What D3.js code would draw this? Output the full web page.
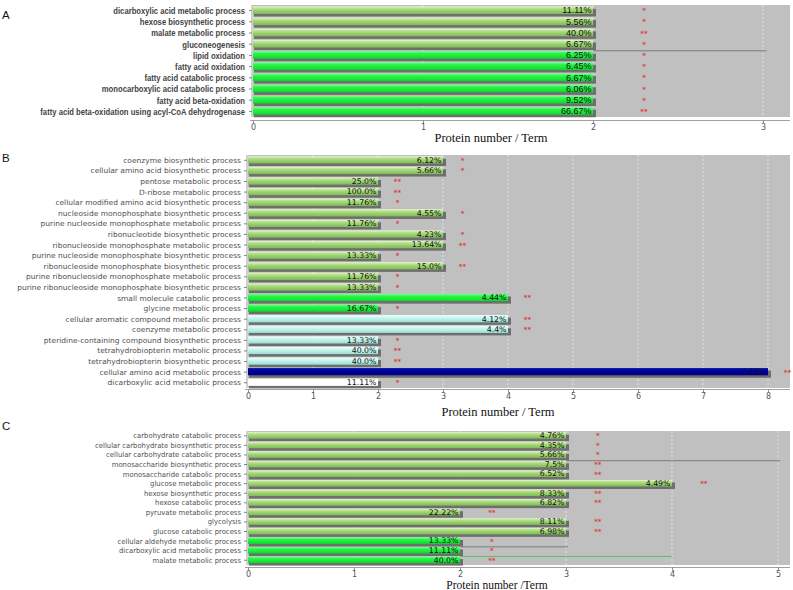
<!DOCTYPE html>
<html><head><meta charset="utf-8">
<script src="https://cdn.jsdelivr.net/npm/d3@7/dist/d3.min.js"></script>
<style>body{margin:0;background:#fff}svg{display:block}</style>
</head><body><svg id="c" width="793" height="590"></svg>
<script>
// ---------- Panel A ----------
const termsA = ["dicarboxylic acid metabolic process","hexose biosynthetic process","malate metabolic process","gluconeogenesis","lipid oxidation","fatty acid oxidation","fatty acid catabolic process","monocarboxylic acid catabolic process","fatty acid beta-oxidation","fatty acid beta-oxidation using acyl-CoA dehydrogenase"];
const countsA = [2,2,2,2,2,2,2,2,2,2];
const pctA = ["11.11%","5.56%","40.0%","6.67%","6.25%","6.45%","6.67%","6.06%","9.52%","66.67%"];
const sigA = ["*","*","**","*","*","*","*","*","*","**"];
const groupA = ["olive","olive","olive","olive","green","green","green","green","green","green"];
const ticksA = [0,1,2,3];
// ---------- Panel B ----------
const termsB = ["coenzyme biosynthetic process","cellular amino acid biosynthetic process","pentose metabolic process","D-ribose metabolic process","cellular modified amino acid biosynthetic process","nucleoside monophosphate biosynthetic process","purine nucleoside monophosphate metabolic process","ribonucleotide biosynthetic process","ribonucleoside monophosphate metabolic process","purine nucleoside monophosphate biosynthetic process","ribonucleoside monophosphate biosynthetic process","purine ribonucleoside monophosphate metabolic process","purine ribonucleoside monophosphate biosynthetic process","small molecule catabolic process","glycine metabolic process","cellular aromatic compound metabolic process","coenzyme metabolic process","pteridine-containing compound biosynthetic process","tetrahydrobiopterin metabolic process","tetrahydrobiopterin biosynthetic process","cellular amino acid metabolic process","dicarboxylic acid metabolic process"];
const countsB = [3,3,2,2,2,3,2,3,3,2,3,2,2,4,2,4,4,2,2,2,8,2];
const pctB = ["6.12%","5.66%","25.0%","100.0%","11.76%","4.55%","11.76%","4.23%","13.64%","13.33%","15.0%","11.76%","13.33%","4.44%","16.67%","4.12%","4.4%","13.33%","40.0%","40.0%","4.18%","11.11%"];
const sigB = ["*","*","**","**","*","*","*","*","**","*","**","*","*","**","*","**","**","*","**","**","**","*"];
const groupB = ["olive","olive","olive","olive","olive","olive","olive","olive","olive","olive","olive","olive","olive","green","green","cyan","cyan","cyan","cyan","cyan","blue","white"];
const ticksB = [0,1,2,3,4,5,6,7,8];
// ---------- Panel C ----------
const termsC = ["carbohydrate catabolic process","cellular carbohydrate biosynthetic process","cellular carbohydrate catabolic process","monosaccharide biosynthetic process","monosaccharide catabolic process","glucose metabolic process","hexose biosynthetic process","hexose catabolic process","pyruvate metabolic process","glycolysis","glucose catabolic process","cellular aldehyde metabolic process","dicarboxylic acid metabolic process","malate metabolic process"];
const countsC = [3,3,3,3,3,4,3,3,2,3,3,2,2,2];
const pctC = ["4.76%","4.35%","5.66%","7.5%","6.52%","4.49%","8.33%","6.82%","22.22%","8.11%","6.98%","13.33%","11.11%","40.0%"];
const sigC = ["*","*","*","**","**","**","**","**","**","**","**","*","*","**"];
const groupC = ["olive","olive","olive","olive","olive","olive","olive","olive","olive","olive","olive","green","green","green"];
const ticksC = [0,1,2,3,4,5];
// stray connector lines seen in the image: [row index, from value, to value, kind]
const linesA = [[4,2,3.02,"gray"]];
const linesC = [[3,3,5.02,"gray"],[12,2,3.02,"gray"],[13,2,4,"green"]];
const axisTitles = ["Protein number / Term","Protein number / Term","Protein number /Term"];

const svg = d3.select("#c");
const defs = svg.append("defs");
function grad(id, stops){
  const g = defs.append("linearGradient").attr("id",id).attr("x1",0).attr("y1",0).attr("x2",0).attr("y2",1);
  stops.forEach(s=>g.append("stop").attr("offset",s[0]).attr("stop-color",s[1]));
}
grad("g-olive",[[0,"#eaf8d2"],[0.25,"#b8e290"],[0.6,"#98cf6c"],[1,"#80bb58"]]);
grad("g-green",[[0,"#7dff95"],[0.3,"#2af548"],[0.7,"#18e838"],[1,"#12cf30"]]);
grad("g-cyan",[[0,"#f4fffe"],[0.35,"#c8f6f0"],[0.7,"#b0ece4"],[1,"#98dcd4"]]);
grad("g-blue",[[0,"#0010a8"],[0.5,"#00009a"],[1,"#000080"]]);
grad("g-white",[[0,"#ffffff"],[1,"#ffffff"]]);
const lineColor = {gray:"#7a7a7a", green:"#5cc05c"};

function panel(cfg){
  const {terms,counts,pct,sig,group,ticks,x0,x1,dmax,yTop,yBot,axisY,labelFont,labelSize,labelWeight,labelColor,labelX,labelW,pctFont,pctSize,pctWeight,title,titleX,titleY,titleSize,letter,letterY,lines} = cfg;
  const x = d3.scaleLinear().domain([0,dmax]).range([x0,x1]);
  const y = d3.scaleBand().domain(d3.range(terms.length)).range([yTop,yBot]).paddingInner(0).paddingOuter(0);
  const bw = y.bandwidth();
  const g = svg.append("g");
  g.append("rect").attr("x",x0).attr("y",yTop).attr("width",x1-x0).attr("height",yBot-yTop).attr("fill","#c0c0c0");
  g.selectAll(".grid").data(ticks.filter(t=>t>0)).join("line")
    .attr("x1",d=>x(d)).attr("x2",d=>x(d)).attr("y1",yTop).attr("y2",yBot)
    .attr("stroke","#ececec").attr("stroke-width",0.8).attr("stroke-dasharray","2,2");
  (lines||[]).forEach(l=>{
    g.append("line").attr("x1",x(l[1])).attr("x2",x(l[2])).attr("y1",y(l[0])+1).attr("y2",y(l[0])+1)
      .attr("stroke",lineColor[l[3]]).attr("stroke-width",1);
  });
  const bh = bw*0.68;
  g.selectAll(".sh").data(counts).join("rect")
    .attr("x",x0+1).attr("y",(d,i)=>y(i)+bw*0.12+2.5).attr("width",d=>x(d)-x0+2).attr("height",bh)
    .attr("fill","#6e6e6e");
  g.selectAll(".bar").data(counts).join("rect")
    .attr("x",x0).attr("y",(d,i)=>y(i)+bw*0.12).attr("width",d=>x(d)-x0).attr("height",bh)
    .attr("fill",(d,i)=>`url(#g-${group[i]})`);
  g.selectAll(".pct").data(counts).join("text")
    .attr("x",d=>x(d)-1.5).attr("y",(d,i)=>y(i)+bw*0.12+bh/2).attr("dy","0.36em")
    .attr("text-anchor","end").attr("font-family",pctFont).attr("font-size",pctSize).attr("font-weight",pctWeight)
    .attr("fill",(d,i)=>group[i]==="blue"?"#101050":"#111").text((d,i)=>pct[i]);
  g.selectAll(".sig").data(counts).join("text")
    .attr("x",d=>x(d+0.3)).attr("y",(d,i)=>y(i)+bw*0.5+2.5)
    .attr("text-anchor","middle").attr("font-family","DejaVu Sans, sans-serif").attr("font-size",7)
    .attr("font-weight","bold").attr("fill","#e23a3a").text((d,i)=>sig[i]);
  g.append("line").attr("x1",x0-1).attr("x2",x0-1).attr("y1",yTop).attr("y2",yBot).attr("stroke","#a0a0a0");
  g.selectAll(".yt").data(terms).join("line")
    .attr("x1",x0-4).attr("x2",x0-1).attr("y1",(d,i)=>y(i)+bw/2).attr("y2",(d,i)=>y(i)+bw/2).attr("stroke","#808080");
  const labels = g.selectAll(".yl").data(terms).join("text")
    .attr("x",0).attr("y",0).attr("dy","0.35em").attr("text-anchor","end")
    .attr("font-family",labelFont).attr("font-size",labelSize).attr("font-weight",labelWeight)
    .attr("fill",labelColor).text(d=>d);
  let maxLen = 0;
  labels.each(function(){ maxLen = Math.max(maxLen, this.getComputedTextLength()); });
  const sx = maxLen>0 ? labelW/maxLen : 1;
  labels.attr("transform",(d,i)=>`translate(${labelX},${y(i)+bw/2}) scale(${sx},1)`);
  const ax = g.append("g").attr("transform",`translate(0,${axisY})`)
    .call(d3.axisBottom(x).tickValues(ticks).tickFormat(d3.format("d")).tickSize(3).tickSizeOuter(0));
  ax.select(".domain").attr("stroke","#a0a0a0").attr("d",`M${x0-3},0.5H${x1}`);
  ax.selectAll(".tick line").attr("stroke","#909090");
  ax.selectAll(".tick text").attr("font-family","DejaVu Sans, sans-serif").attr("font-size",8).attr("fill","#555").attr("dy","0.5em");
  g.append("text").attr("x",titleX).attr("y",titleY).attr("text-anchor","middle")
    .attr("font-family","Liberation Serif, Times New Roman, serif").attr("font-size",titleSize)
    .attr("fill","#111").text(title);
  svg.append("text").attr("x",2).attr("y",letterY).attr("font-family","Liberation Sans, Arial, sans-serif")
    .attr("font-size",11.5).attr("fill","#111").text(letter);
}

panel({terms:termsA,counts:countsA,pct:pctA,sig:sigA,group:groupA,ticks:ticksA,
  x0:253,x1:790,dmax:(790-253)/170,yTop:5,yBot:117,axisY:120,
  labelFont:"Liberation Sans, Arial, sans-serif",labelSize:9.5,labelWeight:"bold",labelColor:"#444",labelX:245,labelW:205,
  pctFont:"Liberation Sans, Arial, sans-serif",pctSize:9,pctWeight:"normal",
  title:axisTitles[0],titleX:491,titleY:142,titleSize:12.5,letter:"A",letterY:19,lines:linesA});
panel({terms:termsB,counts:countsB,pct:pctB,sig:sigB,group:groupB,ticks:ticksB,
  x0:248,x1:790,dmax:(790-248)/65,yTop:155,yBot:388,axisY:389,
  labelFont:"DejaVu Sans, Verdana, sans-serif",labelSize:7.3,labelWeight:"normal",labelColor:"#505050",labelX:241,labelW:224,
  pctFont:"DejaVu Sans, sans-serif",pctSize:7.8,pctWeight:"normal",
  title:axisTitles[1],titleX:498,titleY:416,titleSize:12.5,letter:"B",letterY:162,lines:[]});
panel({terms:termsC,counts:countsC,pct:pctC,sig:sigC,group:groupC,ticks:ticksC,
  x0:248,x1:790,dmax:(790-248)/106,yTop:431,yBot:565,axisY:567,
  labelFont:"DejaVu Sans, Verdana, sans-serif",labelSize:7.3,labelWeight:"normal",labelColor:"#505050",labelX:241,labelW:146,
  pctFont:"DejaVu Sans, sans-serif",pctSize:7.8,pctWeight:"normal",
  title:axisTitles[2],titleX:497,titleY:589,titleSize:11.5,letter:"C",letterY:430,lines:linesC});
</script></body></html>
